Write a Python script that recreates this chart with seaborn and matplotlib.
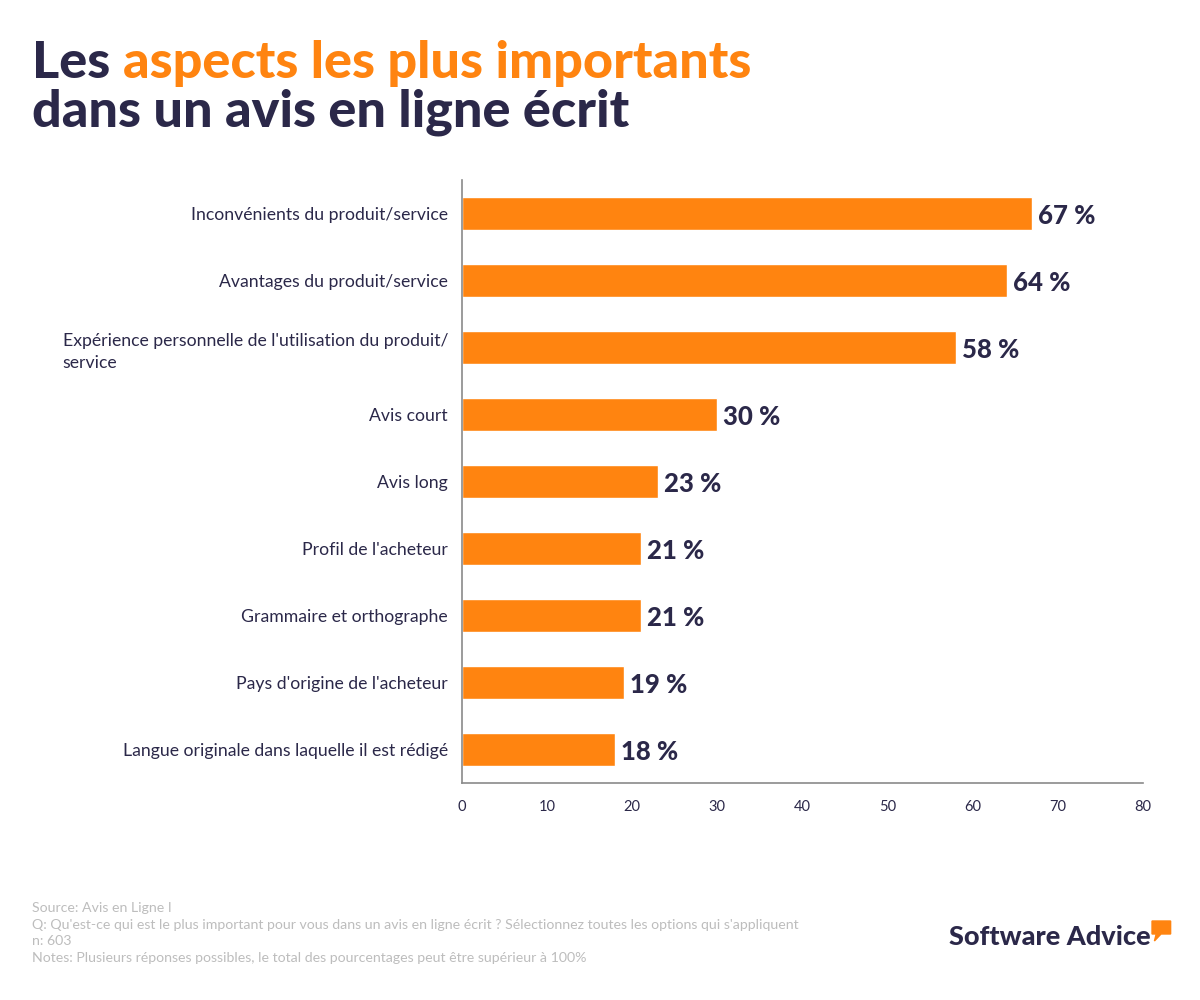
import matplotlib
matplotlib.use("Agg")
import matplotlib.pyplot as plt
import matplotlib.patches as mpatches
import seaborn as sns
import pandas as pd

# ================= DATA =================

categories = [
    "Inconvénients du produit/service",
    "Avantages du produit/service",
    "Expérience personnelle de l'utilisation du produit/\nservice",
    "Avis court",
    "Avis long",
    "Profil de l'acheteur",
    "Grammaire et orthographe",
    "Pays d'origine de l'acheteur",
    "Langue originale dans laquelle il est rédigé",
]
values = [67, 64, 58, 30, 23, 21, 21, 19, 18]
x_ticks = [0, 10, 20, 30, 40, 50, 60, 70, 80]

footer_lines = [
    "Source: Avis en Ligne I",
    "Q: Qu'est-ce qui est le plus important pour vous dans un avis en ligne écrit ? Sélectionnez toutes les options qui s'appliquent",
    "n: 603",
    "Notes: Plusieurs réponses possibles, le total des pourcentages peut être supérieur à 100%",
]

ORANGE = "#FF8410"
NAVY = "#2B2849"
GREY = "#BDBDBD"

df = pd.DataFrame({"category": categories, "value": values})

# ================= STYLE =================

sns.set_theme(style="white")
plt.rcParams["font.family"] = ["Lato", "DejaVu Sans"]

fig = plt.figure(figsize=(12, 10), dpi=100)
ax = fig.add_axes([0.385, 0.217, 0.5675, 0.603])

sns.barplot(
    data=df,
    x="value",
    y="category",
    color=ORANGE,
    saturation=1,
    width=0.48,
    ax=ax,
)

ax.set_xlim(0, 80)
ax.set_xticks(x_ticks)
ax.set_xlabel("")
ax.set_ylabel("")

for side in ["top", "right"]:
    ax.spines[side].set_visible(False)
for side in ["left", "bottom"]:
    ax.spines[side].set_color("#8A8A8A")
    ax.spines[side].set_linewidth(1.2)

ax.tick_params(axis="x", length=0, pad=12, labelsize=10.5, labelcolor=NAVY)
ax.tick_params(axis="y", length=0, pad=10, labelsize=12.7, labelcolor=NAVY)

for lbl in ax.get_yticklabels():
    lbl.set_multialignment("left")
    lbl.set_linespacing(1.5)

# value labels
for i, v in enumerate(values):
    ax.text(
        v + 0.7, i + 0.03, f"{v} %",
        va="center", ha="left",
        fontsize=18.5, fontweight="black", color=NAVY,
    )

# ================= TITLE =================

fig.canvas.draw()
renderer = fig.canvas.get_renderer()

t1 = fig.text(0.027, 0.922, "Les ", fontsize=37.5, fontweight="black",
              color=NAVY, va="baseline", ha="left")
bb = t1.get_window_extent(renderer=renderer)
x_next = bb.x1 / fig.bbox.width
fig.text(x_next, 0.922, "aspects les plus importants", fontsize=37.5,
         fontweight="black", color=ORANGE, va="baseline", ha="left")
fig.text(0.027, 0.873, "dans un avis en ligne écrit", fontsize=37.5,
         fontweight="black", color=NAVY, va="baseline", ha="left")

# ================= FOOTER =================

y0 = 0.088
for k, line in enumerate(footer_lines):
    fig.text(0.027, y0 - k * 0.0167, line, fontsize=10.2, color=GREY,
             va="baseline", ha="left")

# logo
logo = fig.text(0.791, 0.055, "Software Advice", fontsize=19.5,
                fontweight="black", color=NAVY, va="baseline", ha="left")
lb = logo.get_window_extent(renderer=renderer)
lx = lb.x1 / fig.bbox.width
bubble = mpatches.Polygon(
    [(lx + 0.001, 0.079), (lx + 0.0165, 0.079), (lx + 0.0165, 0.066),
     (lx + 0.0085, 0.066), (lx + 0.003, 0.059), (lx + 0.0045, 0.066),
     (lx + 0.001, 0.066)],
    closed=True, transform=fig.transFigure, color=ORANGE,
)
fig.patches.append(bubble)

fig.savefig("out.png", dpi=100)
